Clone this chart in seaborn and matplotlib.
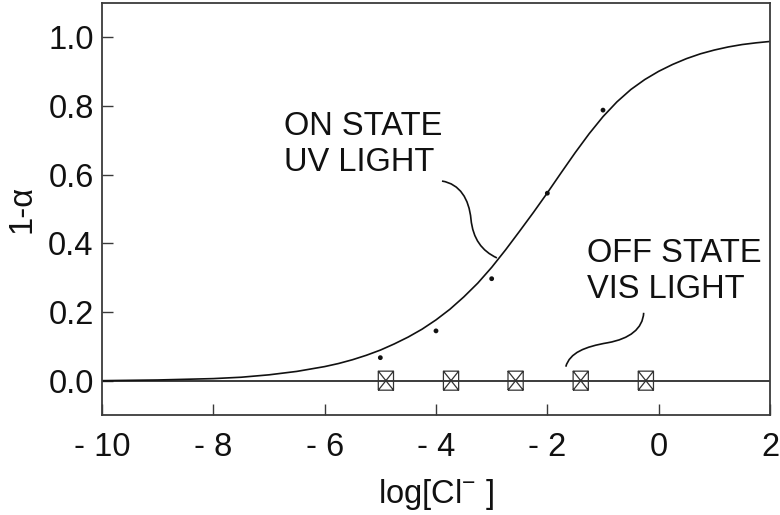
import numpy as np
import pandas as pd
import matplotlib
matplotlib.use("Agg")
import matplotlib.pyplot as plt
from matplotlib.path import Path
from matplotlib.patches import PathPatch
from matplotlib.markers import MarkerStyle
import seaborn as sns

# ---------------- data ----------------
# fitted ON-state curve
on_curve_x = [-10, -9.5, -9, -8.5, -8, -7.5, -7, -6.75, -6.5, -6.25, -6, -5.75,
              -5.5, -5.25, -5, -4.75, -4.5, -4.25, -4, -3.75, -3.5, -3.25, -3,
              -2.75, -2.5, -2.25, -2, -1.75, -1.5, -1.25, -1, -0.75, -0.5, -0.25,
              0, 0.25, 0.5, 0.75, 1, 1.25, 1.5, 1.75, 2]
on_curve_y = [0.000, 0.001, 0.002, 0.004, 0.006, 0.010, 0.017, 0.022, 0.027, 0.034,
              0.041, 0.050, 0.061, 0.074, 0.089, 0.107, 0.127, 0.150, 0.177, 0.208,
              0.244, 0.284, 0.330, 0.381, 0.435, 0.490, 0.547, 0.606, 0.664, 0.719,
              0.769, 0.812, 0.848, 0.877, 0.901, 0.921, 0.938, 0.952, 0.963, 0.972,
              0.979, 0.984, 0.988]
# ON-state measured points
on_pts_x = [-5, -4, -3, -2, -1]
on_pts_y = [0.067, 0.145, 0.297, 0.546, 0.788]
# OFF-state measured points
off_pts_x = [-4.9, -3.73, -2.57, -1.4, -0.23]
off_pts_y = [0.0, 0.0, 0.0, 0.0, 0.0]
# OFF-state fit line
off_line_x = [-10, 2]
off_line_y = [0.0, 0.0]

x_ticks = [-10, -8, -6, -4, -2, 0, 2]
x_tick_labels = ["- 10", "- 8", "- 6", "- 4", "- 2", "0", "2"]
y_ticks = [0.0, 0.2, 0.4, 0.6, 0.8, 1.0]
y_tick_labels = ["0.0", "0.2", "0.4", "0.6", "0.8", "1.0"]

# ---------------- style ----------------
sns.set_theme(style="white")
plt.rcParams["font.family"] = ["Liberation Sans", "DejaVu Sans"]
plt.rcParams["mathtext.default"] = "regular"
FS = 23.5
TXT = "#111111"
SPC = "#3a3a3a"

fig = plt.figure(figsize=(7.8, 5.15), dpi=100)
ax = fig.add_axes([102 / 780, 1 - 415 / 515, 668 / 780, 412 / 515])

df_curve = pd.DataFrame({"x": on_curve_x, "y": on_curve_y})
df_off_line = pd.DataFrame({"x": off_line_x, "y": off_line_y})
df_on = pd.DataFrame({"x": on_pts_x, "y": on_pts_y})
df_off = pd.DataFrame({"x": off_pts_x, "y": off_pts_y})

sns.lineplot(data=df_off_line, x="x", y="y", ax=ax, color="#1a1a1a", lw=1.2,
             sort=False, estimator=None)
sns.lineplot(data=df_curve, x="x", y="y", ax=ax, color="#111111", lw=1.2,
             sort=False, estimator=None)
sns.scatterplot(data=df_on, x="x", y="y", ax=ax, color="#111111", s=12,
                edgecolor="none", zorder=5)

# boxed-X marker (slightly taller than wide)
w, h = 0.4, 0.5
box_x = Path([(-w, -h), (w, -h), (w, h), (-w, h), (-w, -h),
              (-w, -h), (w, h), (-w, h), (w, -h)],
             [Path.MOVETO, Path.LINETO, Path.LINETO, Path.LINETO, Path.LINETO,
              Path.MOVETO, Path.LINETO, Path.MOVETO, Path.LINETO])
sns.scatterplot(data=df_off, x="x", y="y", ax=ax, marker=MarkerStyle(box_x),
                s=19 ** 2 * 0.52, facecolor="none", edgecolor="#333333",
                linewidth=0.9, zorder=6)

ax.set_xlim(-10, 2)
ax.set_ylim(-0.1, 1.1)
ax.set_xticks(x_ticks)
ax.set_xticklabels(x_tick_labels)
ax.set_yticks(y_ticks)
ax.set_yticklabels(y_tick_labels)
ax.tick_params(axis="both", direction="in", length=8, width=1.0, color=SPC,
               labelsize=FS, labelcolor=TXT)
ax.tick_params(axis="x", pad=12, top=False, bottom=True)
ax.tick_params(axis="y", pad=6, left=True, right=False)
for s in ax.spines.values():
    s.set_visible(True)
    s.set_color(SPC)
    s.set_linewidth(1.3)

ax.set_xlabel("log[Cl$^{-}$ ]", fontsize=FS, color=TXT, labelpad=10)
ax.set_ylabel("1-α", fontsize=FS, color=TXT, labelpad=8)

# ---------------- annotations ----------------
def px2d(px, py):
    return ((px - 101.5) / 55.75 - 10, (380 - py) / 344)

ax.text(*px2d(284, 110), "ON STATE\nUV LIGHT", fontsize=FS, color=TXT,
        ha="left", va="top", linespacing=1.2)
ax.text(*px2d(587, 237), "OFF STATE\nVIS LIGHT", fontsize=FS, color=TXT,
        ha="left", va="top", linespacing=1.2)

def connector(pts):
    verts = [px2d(*p) for p in pts]
    codes = [Path.MOVETO] + [Path.CURVE4] * (len(pts) - 1)
    ax.add_patch(PathPatch(Path(verts, codes), fill=False, lw=1.2,
                           edgecolor="#111111", zorder=4))

connector([(442, 180), (460, 183), (469, 198), (471, 218),
           (473, 238), (482, 250), (497, 257)])
connector([(644, 312), (643, 328), (630, 338), (608, 342),
           (585, 346), (570, 352), (566, 366)])

fig.savefig("out.png", dpi=100, facecolor="white")
